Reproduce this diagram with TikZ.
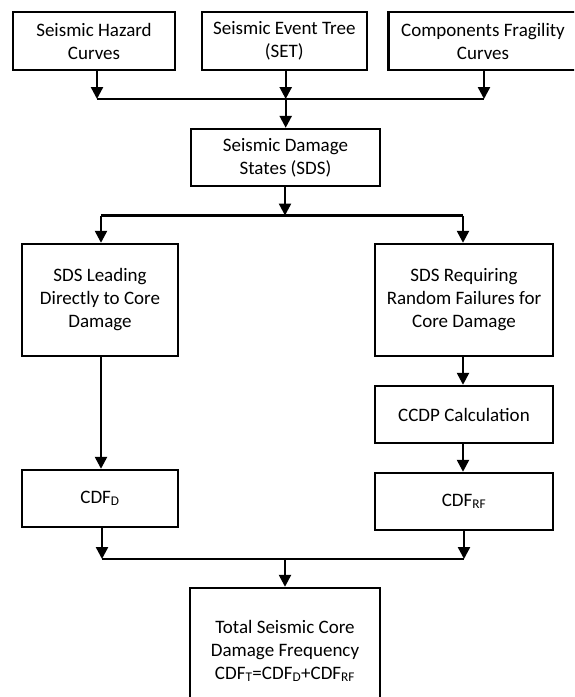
\documentclass[tikz,border=0pt]{standalone}
\usepackage{fontspec}
\setmainfont{Carlito}
\usetikzlibrary{arrows.meta}
\begin{document}
\begin{tikzpicture}[x=1pt,y=-1pt,
  box/.style={draw,line width=2.4pt,rectangle,align=center,inner sep=0pt,font=\fontsize{19}{23}\selectfont},
  conn/.style={line width=2.4pt},
  arr/.style={line width=2.4pt,-{Triangle[width=12pt,length=12pt]}}]
\useasboundingbox (0,0) rectangle (574,697);
\begin{scope}
\clip (0,0) rectangle (574,697);
\node[box,minimum width=162pt,minimum height=58pt] (b1) at (94,41) {Seismic Hazard\\Curves};
\node[box,minimum width=165pt,minimum height=58pt] (b2) at (284.3,41) {Seismic Event Tree\\(SET)};
\node[box,minimum width=189pt,minimum height=58pt] (b3) at (483,41) {Components Fragility\\Curves};
\node[box,minimum width=189pt,minimum height=57pt] (sds) at (285.5,157.5) {Seismic Damage\\States (SDS)};
\node[box,minimum width=156pt,minimum height=112pt] (lb) at (100,300) {SDS Leading\\Directly to Core\\Damage};
\node[box,minimum width=178pt,minimum height=112pt] (rb) at (464,300) {SDS Requiring\\Random Failures for\\Core Damage};
\node[box,minimum width=178pt,minimum height=57pt] (ccdp) at (464,414.5) {CCDP Calculation};
\node[box,minimum width=156pt,minimum height=57pt] (cdfd) at (100,498.5) {CDF\textsubscript{D}};
\node[box,minimum width=178pt,minimum height=57pt] (cdfrf) at (464,501.5) {CDF\textsubscript{RF}};
\node[box,minimum width=190pt,minimum height=126pt] (tot) at (285,651) {Total Seismic Core\\Damage Frequency\\CDF\textsubscript{T}=CDF\textsubscript{D}+CDF\textsubscript{RF}};
\coordinate (j1) at (97,99);
\coordinate (j2) at (285.7,99);
\coordinate (j3) at (484,99);
\coordinate (k1) at (101,215.5);
\coordinate (k2) at (285,215.5);
\coordinate (k3) at (463,215.5);
\coordinate (m1) at (102,559);
\coordinate (m2) at (285,559);
\coordinate (m3) at (464,559);
\draw[arr] (b1.south -| j1) -- (j1);
\draw[arr] (b2.south -| j2) -- (j2);
\draw[arr] (b3.south -| j3) -- (j3);
\draw[conn] (j1) -- (j3);
\draw[arr] (j2) -- (sds.north -| j2);
\draw[arr] (sds.south -| k2) -- (k2);
\draw[conn] (k1) -- (k3);
\draw[arr] (k1) -- (lb.north -| k1);
\draw[arr] (k3) -- (rb.north -| k3);
\draw[arr] (lb.south -| k1) -- (cdfd.north -| k1);
\draw[arr] (rb.south -| k3) -- (ccdp.north -| k3);
\draw[arr] (ccdp.south -| k3) -- (cdfrf.north -| k3);
\draw[arr] (cdfd.south -| m1) -- (m1);
\draw[arr] (cdfrf.south -| m3) -- (m3);
\draw[conn] (m1) -- (m3);
\draw[arr] (m2) -- (tot.north -| m2);
\end{scope}
\end{tikzpicture}
\end{document}
